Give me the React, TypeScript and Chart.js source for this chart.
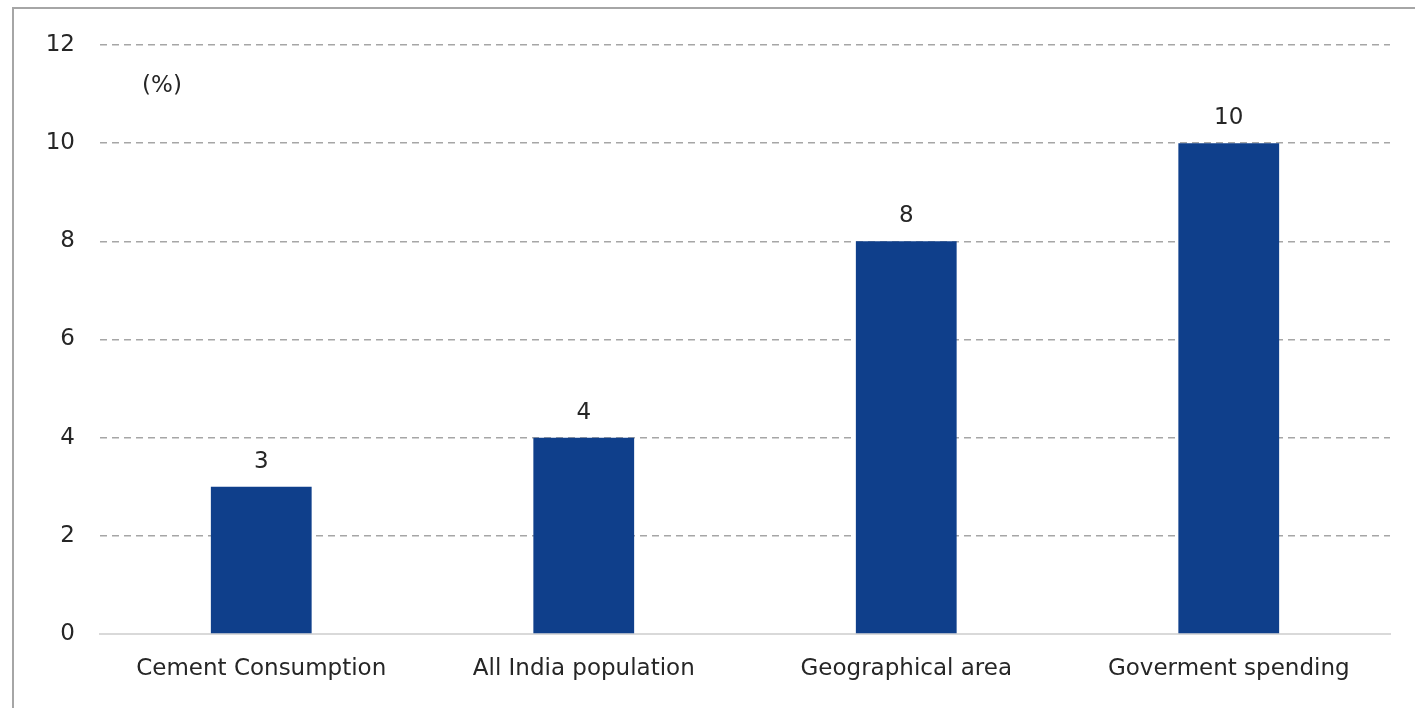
import React, { useEffect, useRef } from "react";
import { Chart, registerables } from "chart.js";

Chart.register(...registerables);

const categories = ["Cement Consumption", "All India population", "Geographical area", "Goverment spending"];
const values = [3, 4, 8, 10];
const yTicks = [0, 2, 4, 6, 8, 10, 12];
const unitLabel = "(%)";

const FONT = "'DejaVu Sans', sans-serif";
const FS = 23;
const TEXT = "#262626";
const BAR = "#0f3f8b";

const labelPlugin = {
  id: "labels",
  afterDatasetsDraw(chart: any) {
    const ctx = chart.ctx;
    const meta = chart.getDatasetMeta(0);
    ctx.save();
    ctx.font = `${FS}px ${FONT}`;
    ctx.fillStyle = TEXT;
    ctx.textAlign = "center";
    ctx.textBaseline = "middle";
    meta.data.forEach((el: any, i: number) => {
      ctx.fillText(String(values[i]), el.x, el.y - 25);
    });
    const ys = chart.scales.y;
    ctx.fillText(unitLabel, chart.chartArea.left + 62, ys.getPixelForValue(11.2) + 2);
    ctx.restore();
  },
};

export default function App() {
  const ref = useRef<HTMLCanvasElement | null>(null);
  useEffect(() => {
    if (!ref.current) return;
    const chart = new Chart(ref.current, {
      type: "bar",
      data: {
        labels: categories,
        datasets: [
          {
            data: values,
            backgroundColor: BAR,
            barPercentage: 0.625,
            categoryPercentage: 0.5,
          },
        ],
      },
      plugins: [labelPlugin],
      options: {
        animation: false,
        responsive: false,
        maintainAspectRatio: false,
        layout: { padding: { left: 0, top: 45, right: 25, bottom: 0 } },
        plugins: { legend: { display: false }, tooltip: { enabled: false } },
        scales: {
          x: {
            grid: { display: false, drawTicks: false },
            border: { display: true, color: "#d9d9d9", width: 2 },
            ticks: { color: TEXT, font: { family: FONT, size: FS }, padding: 21, maxRotation: 0 },
            afterFit: (axis: any) => {
              axis.height = 74;
            },
          },
          y: {
            min: 0,
            max: 12,
            afterBuildTicks: (axis: any) => {
              axis.ticks = yTicks.map((v) => ({ value: v }));
            },
            grid: {
              drawTicks: false,
              color: (c: any) => (c.tick && c.tick.value === 0 ? "rgba(0,0,0,0)" : "#a6a6a6"),
              lineWidth: 1.5,
            },
            border: { display: false, dash: [7, 5] },
            ticks: { color: TEXT, font: { family: FONT, size: FS }, padding: 25 },
            afterFit: (axis: any) => {
              axis.width = 100;
            },
          },
        },
      },
    });
    return () => chart.destroy();
  }, []);
  return (
    <div style={{ position: "fixed", left: 0, top: 0, width: 1415, height: 708, background: "#fff", overflow: "hidden" }}>
      <div
        style={{
          position: "absolute",
          left: 12,
          top: 7,
          width: 1420,
          height: 720,
          borderLeft: "2px solid #a6a6a6",
          borderTop: "2px solid #a6a6a6",
        }}
      />
      <canvas ref={ref} width={1415} height={708} style={{ position: "absolute", left: 0, top: 0 }} />
    </div>
  );
}
